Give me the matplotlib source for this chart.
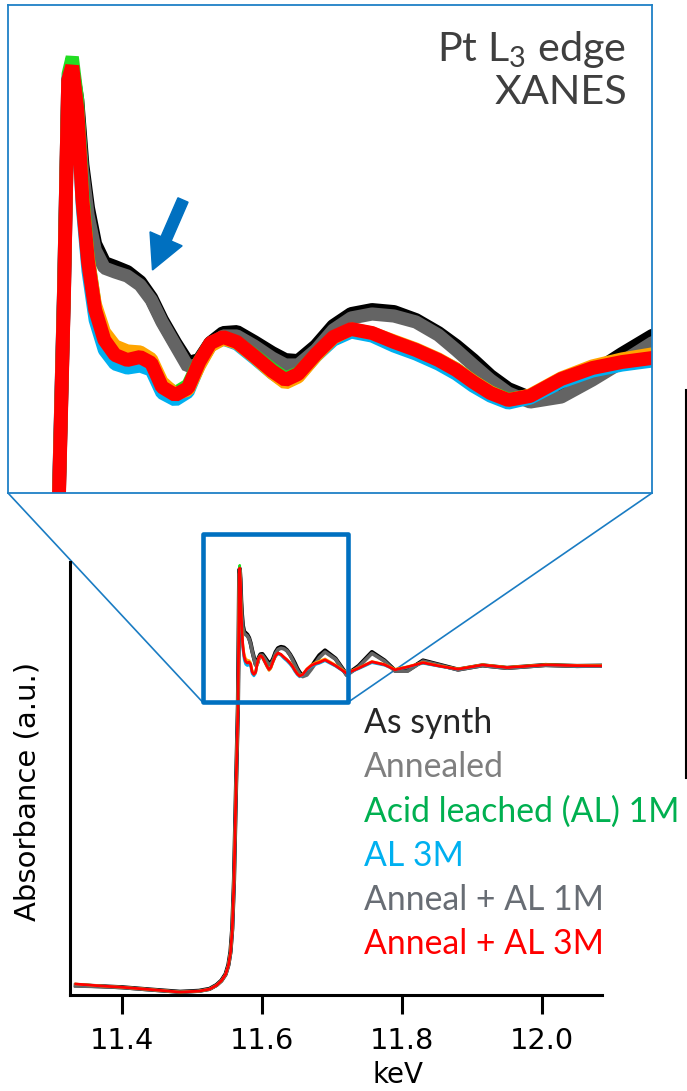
import matplotlib
matplotlib.use("Agg")
import matplotlib.pyplot as plt
from matplotlib.patches import Rectangle, ConnectionPatch, FancyArrow
from matplotlib.lines import Line2D
from matplotlib.transforms import IdentityTransform

# ---------------- data (keV, normalised absorbance) ----------------
energy = [
    11.3340, 11.3700, 11.4000, 11.4400, 11.4830, 11.5100, 11.5250, 11.5350, 11.5420, 11.5480,
    11.5520, 11.5550, 11.5575, 11.5600, 11.5629,
    11.5656, 11.5666, 11.5674, 11.5682, 11.5692, 11.5702, 11.5713, 11.5727, 11.5745, 11.5766,
    11.5790, 11.5815, 11.5837, 11.5858, 11.5884, 11.5909, 11.5931, 11.5953, 11.5978, 11.6005,
    11.6039, 11.6074, 11.6100, 11.6125, 11.6160, 11.6194, 11.6229, 11.6270, 11.6313, 11.6356,
    11.6400, 11.6435, 11.6468, 11.6502, 11.6537, 11.6580, 11.6641, 11.6702, 11.6760, 11.6819,
    11.6900, 11.7050, 11.7210, 11.7380, 11.7570, 11.7750, 11.7900, 11.8080, 11.8300, 11.8550,
    11.8800, 11.9150, 11.9500, 12.0050, 12.0500, 12.0870,
]

as_synth = [
    0.008, 0.005, 0.002, -0.005, -0.012, -0.009, -0.003, 0.009, 0.023, 0.043,
    0.072, 0.113, 0.185, 0.335, 0.625,
    0.875, 1.080, 1.285, 1.298, 1.266, 1.201, 1.158, 1.122, 1.103, 1.099,
    1.094, 1.084, 1.068, 1.046, 1.023, 1.003, 1.006, 1.023, 1.033, 1.034,
    1.024, 1.013, 1.006, 1.005, 1.020, 1.040, 1.052, 1.056, 1.054, 1.046,
    1.033, 1.020, 1.006, 0.990, 0.977, 0.968, 0.975, 0.993, 1.012, 1.030,
    1.045, 1.020, 0.970, 0.997, 1.040, 1.014, 0.983, 0.983, 1.014, 1.000,
    0.986, 0.999, 0.991, 1.000, 0.997, 0.998,
]

annealed = [
    0.006, 0.004, 0.001, -0.006, -0.013, -0.010, -0.004, 0.008, 0.021, 0.040,
    0.068, 0.108, 0.178, 0.325, 0.615,
    0.868, 1.072, 1.281, 1.296, 1.262, 1.196, 1.151, 1.116, 1.098, 1.094,
    1.090, 1.081, 1.066, 1.044, 1.021, 0.999, 1.002, 1.020, 1.030, 1.030,
    1.020, 1.008, 1.001, 1.001, 1.016, 1.036, 1.048, 1.052, 1.050, 1.044,
    1.031, 1.016, 1.001, 0.986, 0.973, 0.964, 0.969, 0.986, 1.004, 1.023,
    1.040, 1.018, 0.968, 0.994, 1.036, 1.012, 0.981, 0.981, 1.012, 0.999,
    0.985, 0.998, 0.990, 0.999, 0.996, 0.997,
]

al_1m = [
    0.012, 0.006, 0.002, -0.005, -0.013, -0.010, -0.004, 0.008, 0.022, 0.042,
    0.071, 0.112, 0.183, 0.335, 0.625,
    0.872, 1.082, 1.292, 1.309, 1.268, 1.176, 1.110, 1.060, 1.027, 1.012,
    1.007, 1.008, 1.001, 0.982, 0.973, 0.981, 1.005, 1.023, 1.029, 1.024,
    1.011, 0.997, 0.988, 0.993, 1.012, 1.029, 1.036, 1.032, 1.023, 1.015,
    1.006, 0.997, 0.985, 0.974, 0.967, 0.970, 0.986, 0.997, 1.003, 1.007,
    1.015, 0.998, 0.975, 0.990, 1.009, 1.001, 0.986, 0.994, 1.006, 0.996,
    0.987, 1.000, 0.992, 1.000, 0.998, 0.997,
]

al_3m = [
    0.011, 0.006, 0.002, -0.005, -0.013, -0.010, -0.004, 0.008, 0.022, 0.042,
    0.070, 0.112, 0.185, 0.340, 0.635,
    0.880, 1.085, 1.288, 1.298, 1.250, 1.158, 1.095, 1.046, 1.016, 1.002,
    0.998, 1.000, 0.996, 0.973, 0.966, 0.974, 1.001, 1.021, 1.027, 1.022,
    1.008, 0.993, 0.984, 0.990, 1.010, 1.026, 1.034, 1.030, 1.020, 1.012,
    1.002, 0.992, 0.980, 0.970, 0.963, 0.968, 0.984, 0.995, 1.001, 1.005,
    1.013, 0.996, 0.973, 0.988, 1.007, 0.999, 0.985, 0.993, 1.005, 0.995,
    0.986, 0.999, 0.991, 0.999, 0.997, 0.996,
]

anneal_al_1m = [
    0.012, 0.006, 0.002, -0.005, -0.013, -0.010, -0.004, 0.008, 0.022, 0.042,
    0.070, 0.111, 0.183, 0.338, 0.630,
    0.876, 1.080, 1.284, 1.296, 1.254, 1.168, 1.108, 1.062, 1.034, 1.020,
    1.015, 1.014, 1.007, 0.984, 0.972, 0.976, 1.000, 1.020, 1.027, 1.023,
    1.009, 0.993, 0.983, 0.989, 1.010, 1.028, 1.037, 1.033, 1.025, 1.017,
    1.007, 0.997, 0.985, 0.974, 0.966, 0.971, 0.988, 1.000, 1.007, 1.012,
    1.019, 1.000, 0.976, 0.991, 1.011, 1.002, 0.987, 0.995, 1.008, 0.997,
    0.988, 1.001, 0.993, 1.001, 0.999, 0.998,
]

anneal_al_3m = [
    0.012, 0.006, 0.002, -0.005, -0.013, -0.010, -0.004, 0.008, 0.022, 0.042,
    0.070, 0.110, 0.180, 0.330, 0.620,
    0.870, 1.076, 1.286, 1.300, 1.256, 1.166, 1.104, 1.056, 1.026, 1.011,
    1.006, 1.009, 1.003, 0.979, 0.971, 0.978, 1.004, 1.023, 1.029, 1.024,
    1.010, 0.995, 0.986, 0.992, 1.012, 1.029, 1.037, 1.033, 1.024, 1.016,
    1.006, 0.996, 0.984, 0.973, 0.966, 0.970, 0.987, 0.998, 1.004, 1.008,
    1.016, 0.998, 0.974, 0.990, 1.010, 1.001, 0.985, 0.994, 1.007, 0.996,
    0.987, 1.000, 0.992, 1.000, 0.998, 0.997,
]

labels = ["As synth", "Annealed", "Acid leached (AL) 1M", "AL 3M",
          "Anneal + AL 1M", "Anneal + AL 3M"]
series = [as_synth, annealed, al_1m, al_3m, anneal_al_1m, anneal_al_3m]
label_colors = ["#262626", "#7f7f7f", "#00b050", "#00b0f0", "#686d74", "#ff0000"]
line_colors = ["#000000", "#646464", "#22dd22", "#00b0f0", "#ffa500", "#ff0000"]
main_widths = [3.0, 2.6, 1.8, 1.8, 1.8, 2.0]
inset_widths = [10.0, 9.5, 9.5, 9.5, 9.5, 10.0]

xticks = [11.4, 11.6, 11.8, 12.0]
xtick_labels = ["11.4", "11.6", "11.8", "12.0"]
main_xlim = (11.3257, 12.0857)
main_ylim = (-0.022, 1.319)
inset_xlim = (11.5556, 11.6819)
inset_ylim = (0.873, 1.361)
zoom_box = (11.515, 0.8854, 11.7234, 1.4056)  # x0, y0, x1, y1

# ---------------- layout ----------------
W, H = 687, 1091
fig = plt.figure(figsize=(W / 100, H / 100), dpi=100)
fig.patch.set_facecolor("white")


def fx(px):
    return px / W


def fy(py):
    return 1 - py / H


BLUE = "#0070c0"
TICKFONT = "DejaVu Sans"
LEGFONT = "Lato"
plt.rcParams["mathtext.fontset"] = "custom"
plt.rcParams["mathtext.rm"] = LEGFONT

# main axes
ax = fig.add_axes([fx(70), fy(995), fx(602) - fx(70), fy(562) - fy(995)])
for s, c, lw in zip(series, line_colors, main_widths):
    ax.plot(energy, s, color=c, lw=lw, solid_joinstyle="round", zorder=2)
ax.set_xlim(*main_xlim)
ax.set_ylim(*main_ylim)
ax.set_yticks([])
ax.set_xticks(xticks)
ax.set_xticklabels(xtick_labels, fontsize=20.7, family=TICKFONT)
ax.tick_params(axis="x", direction="out", length=14, width=2.2, pad=9, colors="black")
for side in ["top", "right"]:
    ax.spines[side].set_visible(False)
for side in ["left", "bottom"]:
    ax.spines[side].set_linewidth(2.2)
    ax.spines[side].set_color("black")
ax.patch.set_alpha(0)

fig.text(fx(398), fy(1083), "keV", fontsize=20.0, family=TICKFONT, ha="center", va="baseline")
fig.text(fx(28), fy(791), "Absorbance (a.u.)", fontsize=21, family=TICKFONT,
         rotation=90, ha="center", va="center")

# zoom rectangle
x0, y0, x1, y1 = zoom_box
rect = Rectangle((x0, y0), x1 - x0, y1 - y0, fill=False, ec=BLUE, lw=3.3,
                 clip_on=False, zorder=5, joinstyle="round")
ax.add_patch(rect)

# inset axes
axin = fig.add_axes([fx(8), fy(493), fx(652) - fx(8), fy(5) - fy(493)])
for s, c, lw in zip(series, line_colors, inset_widths):
    axin.plot(energy, s, color=c, lw=lw, solid_joinstyle="bevel", solid_capstyle="butt")
axin.set_xlim(*inset_xlim)
axin.set_ylim(*inset_ylim)
axin.set_xticks([])
axin.set_yticks([])
for sp in axin.spines.values():
    sp.set_color("#1f80c6")
    sp.set_linewidth(1.3)

# connector lines (inset bottom corners -> zoom box bottom corners)
for xa, xb in [(0, x0), (1, x1)]:
    cp = ConnectionPatch(xyA=(xa, 0), coordsA=axin.transAxes, xyB=(xb, y0),
                         coordsB=ax.transData, color="#1a7cc3", lw=1.2, zorder=1)
    cp.set_clip_on(False)
    ax.add_artist(cp)

# inset title
r = fig.canvas.get_renderer()


def fit_size(txt, family, target, base=20.0):
    t = fig.text(0, 0, txt, fontsize=base, family=family)
    w = t.get_window_extent(renderer=r).width
    t.remove()
    return base * target / w


title1 = r"Pt L$_\mathregular{3}$ edge"
fs_title = fit_size(title1, LEGFONT, 190)
fig.text(fx(626), fy(61), title1, fontsize=fs_title, family=LEGFONT,
         color="#3f3f3f", ha="right", va="baseline")
fig.text(fx(627), fy(104), "XANES", fontsize=fs_title, family=LEGFONT,
         color="#3f3f3f", ha="right", va="baseline")

# arrow
arrow = FancyArrow(183, H - 200, -30.5, -70, width=11, head_width=35, head_length=34,
                   length_includes_head=True, color=BLUE, transform=IdentityTransform())
fig.add_artist(arrow)

# legend as coloured text
fs_leg = fit_size("Acid leached (AL) 1M", LEGFONT, 316)
for i, (lab, col) in enumerate(zip(labels, label_colors)):
    fig.text(fx(364), fy(733 + 44.2 * i), lab, fontsize=fs_leg, family=LEGFONT,
             color=col, ha="left", va="baseline")

# stray vertical rule at the right edge
fig.add_artist(Line2D([fx(686), fx(686)], [fy(390), fy(778)], transform=fig.transFigure,
                      color="black", lw=1.5))

fig.savefig("out.png", dpi=100, facecolor="white")
